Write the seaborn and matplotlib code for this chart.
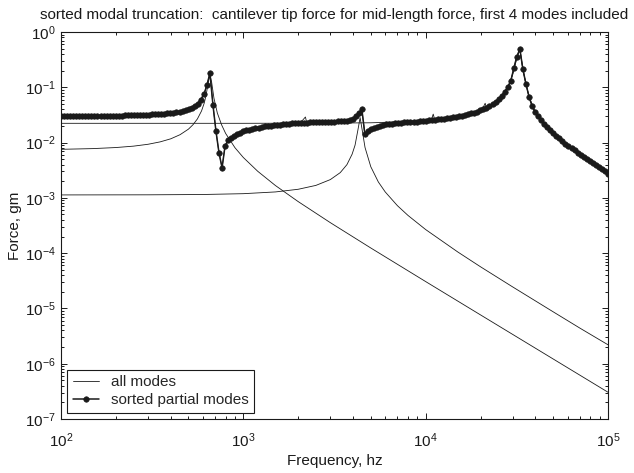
import matplotlib
matplotlib.use('Agg')
import matplotlib.pyplot as plt
from matplotlib.ticker import LogLocator, NullFormatter, FixedLocator
import seaborn as sns

# 주파수 (hz) - sorted partial modes 곡선의 샘플 주파수
freq_sorted = [
    100, 103.9, 108.0, 112.2, 116.6, 121.2, 125.9, 130.8, 135.9, 141.3,
    146.8, 152.5, 158.5, 164.7, 171.1, 177.8, 184.8, 192.0, 199.5, 207.3,
    215.4, 223.9, 232.6, 241.7, 251.2, 261.0, 271.2, 281.8, 292.9, 304.3,
    316.2, 328.6, 341.5, 354.8, 368.7, 383.1, 398.1, 413.7, 429.9, 446.7,
    464.2, 482.3, 501.2, 520.8, 541.2, 562.3, 584.3, 607.2, 631.0, 655.7,
    681.3, 707.9, 735.6, 764.4, 794.3, 825.4, 857.7, 891.3, 926.1, 962.4,
    1000, 1039, 1080, 1122, 1166, 1212, 1259, 1308, 1359, 1413,
    1468, 1525, 1585, 1647, 1711, 1778, 1848, 1920, 1995, 2073,
    2154, 2239, 2326, 2417, 2512, 2610, 2712, 2818, 2929, 3043,
    3162, 3286, 3415, 3548, 3687, 3831, 3981, 4137, 4299, 4467,
    4642, 4823, 5012, 5208, 5412, 5623, 5843, 6072, 6310, 6556,
    6813, 7079, 7356, 7644, 7943, 8254, 8577, 8913, 9261, 9624,
    10000, 10390, 10800, 11220, 11660, 12120, 12590, 13080, 13590, 14130,
    14680, 15250, 15850, 16470, 17110, 17780, 18480, 19200, 19950, 20730,
    21540, 22390, 23260, 24170, 25120, 26100, 27120, 28180, 29290, 30430,
    31620, 32860, 34150, 35480, 36870, 38310, 39810, 41370, 42990, 44670,
    46420, 48230, 50120, 52080, 54120, 56230, 58430, 60720, 63100, 65560,
    68130, 70790, 73560, 76440, 79430, 82540, 85770, 89130, 92610, 96240,
    100000,
]
force_sorted = [
    0.0301, 0.0301, 0.0301, 0.0301, 0.0302, 0.0302, 0.0302, 0.0302, 0.0302, 0.0303,
    0.0303, 0.0303, 0.0304, 0.0304, 0.0305, 0.0305, 0.0306, 0.0306, 0.0307, 0.0307,
    0.0308, 0.0309, 0.0310, 0.0311, 0.0312, 0.0313, 0.0315, 0.0316, 0.0318, 0.0320,
    0.0322, 0.0324, 0.0327, 0.0330, 0.0334, 0.0338, 0.0343, 0.0349, 0.0356, 0.0364,
    0.0375, 0.0388, 0.0405, 0.0428, 0.0459, 0.0507, 0.0587, 0.0744, 0.108, 0.180,
    0.048, 0.016, 0.0065, 0.0035, 0.0088, 0.0110, 0.0122, 0.0133, 0.0143, 0.0152,
    0.0160, 0.0167, 0.0172, 0.0177, 0.0182, 0.0187, 0.0192, 0.0196, 0.0200, 0.0203,
    0.0206, 0.0209, 0.0212, 0.0215, 0.0218, 0.0221, 0.0223, 0.0225, 0.0227, 0.0228,
    0.0229, 0.0230, 0.0231, 0.0232, 0.0233, 0.0234, 0.0235, 0.0236, 0.0237, 0.0238,
    0.0239, 0.0241, 0.0243, 0.0246, 0.0250, 0.0257, 0.0268, 0.0300, 0.0345, 0.0400,
    0.0140, 0.0160, 0.0175, 0.0186, 0.0195, 0.0203, 0.0209, 0.0214, 0.0218, 0.0221,
    0.0224, 0.0227, 0.0229, 0.0231, 0.0233, 0.0235, 0.0238, 0.0240, 0.0243, 0.0246,
    0.0249, 0.0252, 0.0255, 0.0258, 0.0262, 0.0266, 0.0270, 0.0275, 0.0280, 0.0285,
    0.0291, 0.0298, 0.0306, 0.0315, 0.0325, 0.0336, 0.0349, 0.0364, 0.0382, 0.0403,
    0.0428, 0.0459, 0.0498, 0.0548, 0.0614, 0.0703, 0.0830, 0.101, 0.130, 0.220,
    0.360, 0.490, 0.210, 0.115, 0.068, 0.046, 0.036, 0.0300, 0.0255, 0.0220,
    0.0192, 0.0168, 0.0149, 0.0133, 0.0119, 0.0106, 0.0096, 0.0087, 0.0079, 0.0072,
    0.0065, 0.0059, 0.0054, 0.0050, 0.0046, 0.0042, 0.0039, 0.0036, 0.0033, 0.0030,
    0.0027,
]

# all modes 곡선 (고차 모드 때문에 작은 꺾임이 있음)
freq_all = [100, 300, 450, 550, 607.2, 631.0, 655.7, 681.3, 707.9, 735.6, 764.4, 794.3,
            857.7, 962.4, 1080, 1259, 1525, 1848, 2000, 2100, 2190, 2230, 2326, 2712,
            3162, 3548, 3831, 4137, 4299, 4467, 4642, 4823, 5208, 5623, 6310, 7079,
            7943, 8913, 9624, 10390, 10800, 11000, 11220, 12120, 13590, 15850, 17780,
            19200, 20000, 20730, 21200, 21540, 22390, 24170, 26100, 28180, 29290,
            30430, 31620, 32860, 34150, 35480, 36870, 39810, 44670, 50120, 56230,
            63100, 70790, 79430, 89130, 100000]
force_all = [0.0301, 0.0320, 0.0366, 0.0480, 0.0744, 0.108, 0.180, 0.048, 0.016, 0.0065,
             0.0035, 0.0088, 0.0122, 0.0152, 0.0172, 0.0192, 0.0209, 0.0224, 0.0234, 0.0247,
             0.0290, 0.0226, 0.0231, 0.0235, 0.0239, 0.0246, 0.0257, 0.0300, 0.0345, 0.0400,
             0.0140, 0.0160, 0.0186, 0.0203, 0.0220, 0.0232, 0.0240, 0.0247, 0.0252, 0.0258,
             0.0272, 0.0327, 0.0258, 0.0266, 0.0280, 0.0306, 0.0336, 0.0364, 0.0400, 0.0440,
             0.0514, 0.0428, 0.0459, 0.0548, 0.0703, 0.101, 0.130, 0.220, 0.360, 0.490,
             0.210, 0.115, 0.068, 0.036, 0.0220, 0.0149, 0.0106, 0.0079, 0.0059, 0.0046,
             0.0036, 0.0027]

# 개별 모드 기여
freq_mode1 = [100, 150, 200, 250, 300, 350, 400, 450, 500, 530, 560, 590, 610, 625, 640,
              655.7, 670, 690, 720, 760, 800, 900, 1000, 1200, 1500, 2000, 3000, 5000,
              10000, 20000, 50000, 100000]
force_mode1 = [0.00755, 0.00778, 0.00813, 0.00862, 0.00931, 0.0103, 0.0117, 0.0139, 0.0175,
               0.0211, 0.0268, 0.0374, 0.0516, 0.0721, 0.115, 0.172, 0.124, 0.0635, 0.0343,
               0.0209, 0.0146, 0.00806, 0.00537, 0.00302, 0.00167, 0.000855, 0.000356,
               0.000124, 3.06e-5, 7.63e-6, 1.22e-6, 3.05e-7]

freq_mode2 = [100, 300, 600, 1000, 1500, 2000, 2500, 3000, 3400, 3700, 3950, 4100, 4250,
              4370, 4480, 4650, 5000, 5500, 6000, 7000, 8000, 10000, 15000, 20000, 30000,
              50000, 70000, 100000]
force_mode2 = [0.00113, 0.001135, 0.00115, 0.00119, 0.00128, 0.00143, 0.00168, 0.00214,
               0.00286, 0.00399, 0.00617, 0.00899, 0.0169, 0.0283, 0.0173, 0.00814, 0.00366,
               0.00194, 0.00128, 0.000722, 0.000481, 0.000267, 0.000105, 5.66e-5, 2.45e-5,
               8.70e-6, 4.42e-6, 2.20e-6]

freq_mode3 = [100, 1000, 3000, 5000, 10000, 15000, 20000, 25000, 28000, 30000, 31500,
              32860, 34150, 35480, 36870, 38310, 40000, 45000, 50000, 60000, 70000, 80000,
              90000, 100000]
force_mode3 = [0.0223, 0.0223, 0.0225, 0.0228, 0.0245, 0.0281, 0.0360, 0.0580, 0.092, 0.170,
               0.320, 0.490, 0.210, 0.115, 0.068, 0.046, 0.034, 0.021, 0.0150, 0.0086,
               0.0060, 0.0044, 0.0034, 0.0027]

x_ticks = [1e2, 1e3, 1e4, 1e5]
y_ticks = [1e-7, 1e-6, 1e-5, 1e-4, 1e-3, 1e-2, 1e-1, 1e0]

sns.set_theme(style='ticks')
plt.rcParams['font.family'] = ['Liberation Sans', 'DejaVu Sans']
plt.rcParams['mathtext.fontset'] = 'custom'
plt.rcParams['mathtext.rm'] = 'Liberation Sans'
plt.rcParams['mathtext.it'] = 'Liberation Sans:italic'
plt.rcParams['mathtext.bf'] = 'Liberation Sans:bold'

FS = 11

fig = plt.figure(figsize=(6.34, 4.73), dpi=100)
ax = fig.add_axes([61 / 634, 1 - 419 / 473, 547 / 634, 387 / 473])

thin = dict(color='k', linewidth=0.6, estimator=None, sort=False, ax=ax)
sns.lineplot(x=freq_all, y=force_all, **thin)
sns.lineplot(x=freq_mode1, y=force_mode1, **thin)
sns.lineplot(x=freq_mode2, y=force_mode2, **thin)
sns.lineplot(x=freq_mode3, y=force_mode3, **thin)
sns.lineplot(x=freq_sorted, y=force_sorted, color='k', linewidth=1.1, marker='o',
             markersize=4.0, markeredgecolor='k', markeredgewidth=0.4,
             estimator=None, sort=False, ax=ax)

ax.set_xscale('log')
ax.set_yscale('log')
ax.set_xlim(1e2, 1e5)
ax.set_ylim(1e-7, 1e0)

ax.xaxis.set_major_locator(FixedLocator(x_ticks))
ax.yaxis.set_major_locator(FixedLocator(y_ticks))
for axis in (ax.xaxis, ax.yaxis):
    axis.set_minor_locator(LogLocator(base=10, subs=range(2, 10), numticks=100))
    axis.set_minor_formatter(NullFormatter())

ax.tick_params(which='both', direction='in', top=True, right=True, colors='k',
               width=0.7, labelsize=FS)
ax.tick_params(which='major', length=4)
ax.tick_params(axis='x', which='major', pad=9)
ax.tick_params(axis='y', which='major', pad=4)
ax.tick_params(which='minor', length=2.2)
for sp in ax.spines.values():
    sp.set_color('k')
    sp.set_linewidth(0.8)

ax.set_xlabel('Frequency, hz', fontsize=FS, color='k', labelpad=3)
ax.set_ylabel('Force, gm', fontsize=FS, color='k', labelpad=2)
ax.set_title('sorted modal truncation:  cantilever tip force for mid-length force, '
             'first 4 modes included', fontsize=FS, color='k', pad=9)

lines = ax.get_lines()
leg = ax.legend([lines[0], lines[4]], ['all modes', 'sorted partial modes'],
                loc='lower left', fontsize=FS, frameon=True, fancybox=False,
                framealpha=1, edgecolor='k', borderaxespad=0.42,
                handlelength=1.7, handletextpad=0.8, labelspacing=0.25,
                borderpad=0.35)
leg.get_frame().set_linewidth(0.8)

fig.savefig('out.png', dpi=100)
